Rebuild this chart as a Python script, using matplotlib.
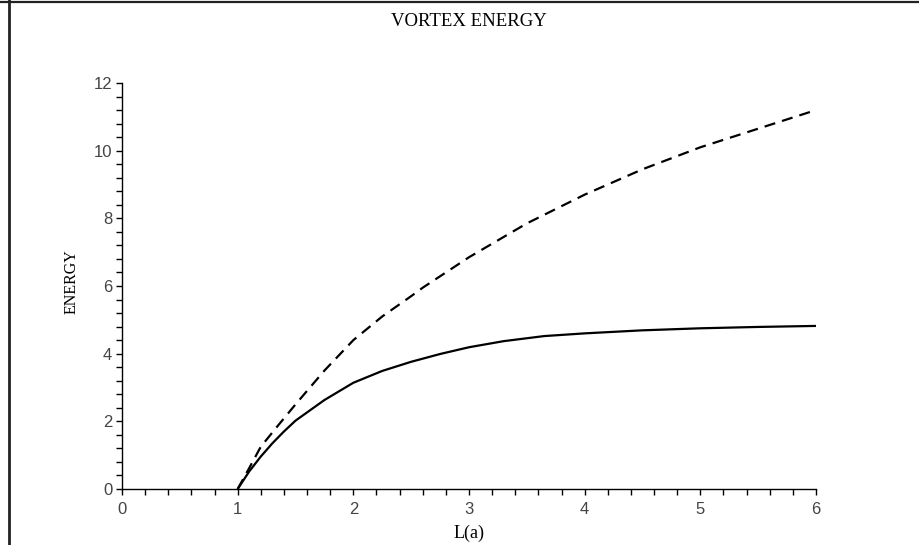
import matplotlib
matplotlib.use("Agg")
import matplotlib.pyplot as plt
from matplotlib.lines import Line2D
from matplotlib.ticker import MultipleLocator

# Data
L_solid = [1.0, 1.1, 1.2, 1.3, 1.4, 1.5, 1.75, 2.0, 2.25, 2.5, 2.75, 3.0, 3.3, 3.65, 4.0, 4.5, 5.0, 5.5, 6.0]
E_solid = [0.0, 0.52, 0.96, 1.35, 1.70, 2.02, 2.63, 3.14, 3.49, 3.76, 3.99, 4.19, 4.37, 4.52, 4.60, 4.69, 4.75, 4.79, 4.82]

L_dashed = [1.0, 1.1, 1.2, 1.35, 1.5, 1.75, 2.0, 2.25, 2.5, 2.6, 3.0, 3.5, 4.0, 4.5, 5.0, 5.5, 6.0]
E_dashed = [0.0, 0.62, 1.25, 1.88, 2.50, 3.50, 4.40, 5.10, 5.70, 5.95, 6.85, 7.85, 8.70, 9.45, 10.10, 10.65, 11.20]

x_major = [0, 1, 2, 3, 4, 5, 6]
y_major = [0, 2, 4, 6, 8, 10, 12]

title_text = "VORTEX ENERGY"
xlabel_text = "L(a)"
ylabel_text = "ENERGY"

fig = plt.figure(figsize=(9.2, 5.45), dpi=100)
fig.patch.set_facecolor("white")
ax = fig.add_axes([122 / 920, 1 - 489 / 545, (816 - 122) / 920, (489 - 83) / 545])

ax.plot(L_solid, E_solid, color="black", lw=1.6, clip_on=False, solid_capstyle="butt",
        solid_joinstyle="round")
ax.plot(L_dashed, E_dashed, color="black", lw=1.6, dashes=(5.0, 3.2), clip_on=False)

ax.set_xlim(0, 6)
ax.set_ylim(0, 12)
ax.set_xticks(x_major)
ax.set_yticks(y_major)
ax.set_xticklabels([str(v) for v in x_major])
ax.set_yticklabels([str(v) for v in y_major])
ax.xaxis.set_minor_locator(MultipleLocator(0.2))
ax.yaxis.set_minor_locator(MultipleLocator(0.4))

for side in ["top", "right"]:
    ax.spines[side].set_visible(False)
for side in ["left", "bottom"]:
    ax.spines[side].set_linewidth(1.0)
    ax.spines[side].set_color("black")

ax.tick_params(axis="both", which="both", direction="out", length=4, width=1.0, color="black")
ax.tick_params(axis="x", which="major", pad=5, labelsize=12, labelcolor="#444444")
ax.tick_params(axis="y", which="major", pad=3, labelsize=12, labelcolor="#444444")
for lab in ax.get_xticklabels() + ax.get_yticklabels():
    lab.set_family("Liberation Sans")

fig.text(469 / 920, 1 - 22 / 545, title_text, ha="center", va="center",
         family="Liberation Serif", fontsize=13.5)
fig.text(469 / 920, 1 - 533 / 545, xlabel_text, ha="center", va="center",
         family="Liberation Serif", fontsize=13)
fig.text(72 / 920, 1 - 282 / 545, ylabel_text, ha="center", va="center", rotation=90,
         family="Liberation Serif", fontsize=11.5)

# Frame lines (top and left) of the original screenshot
fig.add_artist(Line2D([0, 1], [1 - 1.5 / 545, 1 - 1.5 / 545], transform=fig.transFigure,
                      color="#222222", lw=1.6))
fig.add_artist(Line2D([9 / 920, 9 / 920], [0, 1], transform=fig.transFigure,
                      color="#222222", lw=2.0))

fig.savefig("out.png", dpi=100, facecolor="white")
